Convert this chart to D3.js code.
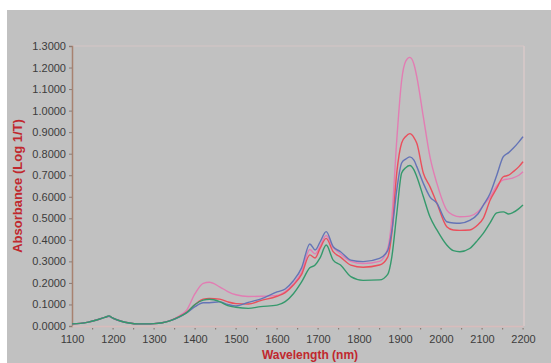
<!DOCTYPE html>
<html>
<head>
<meta charset="utf-8">
<script src="https://cdn.jsdelivr.net/npm/d3@7"></script>
<style>
  html, body { margin: 0; padding: 0; background: #ffffff; }
  svg { display: block; }
</style>
</head>
<body>
<script>
// NIR absorbance spectra, four samples
const wavelengths = [1100,1120,1140,1160,1180,1190,1200,1220,1240,1260,1280,1300,1320,1340,1360,1380,1400,1420,1435,1460,1480,1500,1530,1560,1600,1620,1640,1660,1680,1693,1705,1720,1737,1755,1780,1810,1850,1870,1880,1892,1904,1914,1924,1934,1941,1957,1973,1990,2014,2030,2046,2070,2090,2103,2120,2136,2152,2165,2176,2190,2200];

const pinkSeries = [0.010,0.012,0.018,0.028,0.040,0.046,0.036,0.022,0.014,0.010,0.010,0.011,0.015,0.026,0.045,0.075,0.150,0.198,0.203,0.182,0.160,0.145,0.137,0.138,0.142,0.160,0.195,0.250,0.355,0.335,0.370,0.420,0.365,0.335,0.300,0.290,0.300,0.360,0.500,0.860,1.140,1.230,1.247,1.215,1.157,0.970,0.786,0.662,0.538,0.515,0.507,0.510,0.530,0.560,0.600,0.650,0.678,0.683,0.688,0.700,0.716];

const redSeries = [0.010,0.012,0.018,0.028,0.040,0.045,0.036,0.022,0.014,0.010,0.010,0.011,0.015,0.025,0.042,0.065,0.100,0.125,0.128,0.125,0.112,0.104,0.102,0.118,0.138,0.155,0.190,0.240,0.330,0.316,0.360,0.407,0.345,0.320,0.283,0.273,0.283,0.320,0.430,0.710,0.850,0.880,0.893,0.875,0.848,0.709,0.647,0.570,0.461,0.446,0.444,0.446,0.470,0.500,0.585,0.640,0.693,0.700,0.716,0.740,0.763];

const blueSeries = [0.010,0.012,0.018,0.028,0.040,0.045,0.036,0.022,0.014,0.010,0.010,0.011,0.015,0.025,0.040,0.062,0.090,0.108,0.108,0.112,0.100,0.093,0.110,0.125,0.158,0.172,0.210,0.270,0.381,0.353,0.390,0.438,0.368,0.345,0.306,0.299,0.314,0.350,0.440,0.630,0.757,0.775,0.785,0.770,0.740,0.662,0.600,0.570,0.484,0.478,0.477,0.490,0.520,0.560,0.616,0.700,0.786,0.805,0.825,0.855,0.879];

const greenSeries = [0.010,0.012,0.018,0.028,0.040,0.047,0.036,0.022,0.014,0.010,0.010,0.011,0.015,0.025,0.041,0.062,0.100,0.120,0.124,0.113,0.095,0.087,0.082,0.090,0.097,0.113,0.150,0.205,0.270,0.283,0.316,0.376,0.306,0.283,0.229,0.212,0.214,0.240,0.320,0.520,0.710,0.735,0.745,0.725,0.693,0.600,0.507,0.446,0.376,0.350,0.345,0.360,0.400,0.430,0.480,0.525,0.530,0.520,0.527,0.545,0.562];

const xTickValues = [1100,1200,1300,1400,1500,1600,1700,1800,1900,2000,2100,2200];
const xMinorTicks = [1150,1250,1350,1450,1550,1650,1750,1850,1950,2050,2150];
const yTickValues = [0,0.1,0.2,0.3,0.4,0.5,0.6,0.7,0.8,0.9,1.0,1.1,1.2,1.3];

const seriesList = [
  { name: "pink",  values: pinkSeries,  color: "#e27db3" },
  { name: "red",   values: redSeries,   color: "#ea4f5c" },
  { name: "blue",  values: blueSeries,  color: "#6474b6" },
  { name: "green", values: greenSeries, color: "#35996c" }
];

const W = 551, H = 363;
const plot = { left: 72, right: 523, top: 46, bottom: 326 };
const FONT = "Liberation Sans, Arial, sans-serif";

const svg = d3.select("body").append("svg")
  .attr("width", W).attr("height", H);

// panel background
svg.append("rect").attr("x", 0).attr("y", 0).attr("width", W).attr("height", H).attr("fill", "#ffffff");
svg.append("rect").attr("x", 7).attr("y", 10).attr("width", W - 7).attr("height", H - 10).attr("fill", "#c1c1c1");

const x = d3.scaleLinear().domain([1100, 2200]).range([plot.left, plot.right]);
const y = d3.scaleLinear().domain([0, 1.3]).range([plot.bottom, plot.top]);

// frame: top and right borders
svg.append("line").attr("x1", plot.left).attr("x2", plot.right + 1)
  .attr("y1", plot.top).attr("y2", plot.top)
  .attr("stroke", "#d6c6c6").attr("stroke-width", 1.2);
svg.append("line").attr("x1", plot.right + 1).attr("x2", plot.right + 1)
  .attr("y1", plot.top).attr("y2", plot.bottom)
  .attr("stroke", "#d9c9c9").attr("stroke-width", 1.5);

// Y axis
const yAxis = d3.axisLeft(y).tickValues(yTickValues).tickFormat(d3.format(".4f"))
  .tickSize(3).tickPadding(3);
const gy = svg.append("g").attr("transform", `translate(${plot.left},0)`).call(yAxis);
gy.select(".domain").attr("stroke", "#a88270").attr("stroke-width", 1.5);
gy.selectAll(".tick line").attr("stroke", "#8a7a74");
gy.selectAll(".tick text").attr("fill", "#3c3c3c")
  .style("font-family", FONT).style("font-size", "11px");

// X axis
const xAxis = d3.axisBottom(x).tickValues(xTickValues).tickFormat(d3.format("d"))
  .tickSize(0).tickPadding(9);
const gx = svg.append("g").attr("transform", `translate(0,${plot.bottom})`).call(xAxis);
gx.select(".domain").attr("stroke", "#d9bcbc").attr("stroke-width", 1.5);
gx.selectAll(".tick text").attr("fill", "#3c3c3c")
  .style("font-family", FONT).style("font-size", "11px");

// small tick dots below the x axis, every 50 nm
svg.append("g").selectAll("rect")
  .data(xMinorTicks.concat(xTickValues.slice(1)))
  .join("rect")
  .attr("x", d => x(d) - 0.5).attr("y", plot.bottom + 2)
  .attr("width", 1.2).attr("height", 1.5)
  .attr("fill", "#8a7a74");

// spectra
const line = d3.line()
  .x((d, i) => x(wavelengths[i]))
  .y(d => y(d))
  .curve(d3.curveMonotoneX);

svg.append("g").selectAll("path")
  .data(seriesList)
  .join("path")
  .attr("d", s => line(s.values))
  .attr("fill", "none")
  .attr("stroke", s => s.color)
  .attr("stroke-width", 1.4)
  .attr("stroke-linejoin", "round");

// axis titles
svg.append("text")
  .attr("transform", `translate(22,${(plot.top + plot.bottom) / 2}) rotate(-90)`)
  .attr("text-anchor", "middle")
  .attr("fill", "#c0282e")
  .style("font-family", FONT)
  .style("font-size", "13px").style("font-weight", "bold")
  .text("Absorbance (Log 1/T)");

svg.append("text")
  .attr("x", 310).attr("y", 359)
  .attr("text-anchor", "middle")
  .attr("fill", "#c0282e")
  .style("font-family", FONT)
  .style("font-size", "12px").style("font-weight", "bold")
  .text("Wavelength (nm)");
</script>
</body>
</html>
